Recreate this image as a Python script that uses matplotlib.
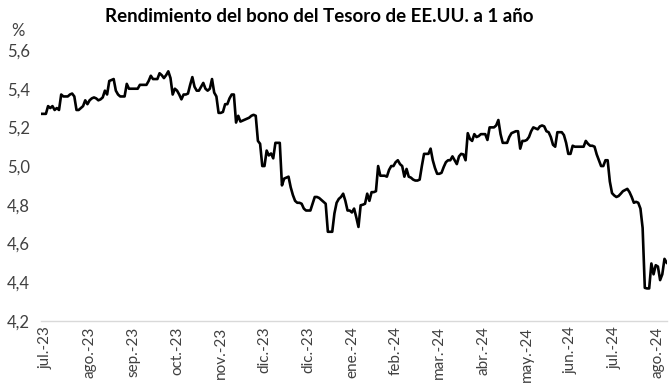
import matplotlib
matplotlib.use("Agg")
import matplotlib.pyplot as plt
from matplotlib.ticker import FuncFormatter

# rendimiento diario (%), una observación por día hábil
yields = [
    5.27, 5.27, 5.27, 5.31, 5.30, 5.31, 5.29, 5.30, 5.29, 5.37,
    5.36, 5.36, 5.36, 5.37, 5.375, 5.36, 5.29, 5.29, 5.30, 5.31,
    5.34, 5.32, 5.34, 5.35, 5.355, 5.35, 5.34, 5.345, 5.355, 5.39,
    5.37, 5.44, 5.445, 5.45, 5.39, 5.37, 5.36, 5.36, 5.36, 5.425,
    5.40, 5.40, 5.40, 5.40, 5.40, 5.42, 5.42, 5.42, 5.42, 5.44,
    5.467, 5.45, 5.45, 5.45, 5.48, 5.47, 5.455, 5.47, 5.49, 5.455,
    5.37, 5.40, 5.39, 5.37, 5.345, 5.37, 5.37, 5.375, 5.42, 5.46,
    5.41, 5.39, 5.39, 5.41, 5.43, 5.40, 5.39, 5.40, 5.45, 5.38,
    5.36, 5.275, 5.275, 5.28, 5.32, 5.32, 5.35, 5.37, 5.37, 5.225,
    5.26, 5.23, 5.235, 5.24, 5.245, 5.25, 5.26, 5.265, 5.26, 5.13,
    5.115, 5.00, 5.00, 5.08, 5.055, 5.065, 5.04, 5.12, 5.12, 5.12,
    4.90, 4.935, 4.94, 4.945, 4.89, 4.85, 4.82, 4.81, 4.81, 4.805,
    4.78, 4.77, 4.77, 4.77, 4.805, 4.84, 4.84, 4.835, 4.825, 4.815,
    4.805, 4.66, 4.66, 4.66, 4.755, 4.81, 4.83, 4.84, 4.857, 4.82,
    4.77, 4.77, 4.76, 4.78, 4.735, 4.685, 4.797, 4.80, 4.805, 4.857,
    4.82, 4.865, 4.865, 4.87, 5.00, 4.95, 4.95, 4.95, 4.945, 4.98,
    5.00, 5.00, 5.02, 5.03, 5.01, 5.00, 4.945, 4.985, 4.945, 4.94,
    4.93, 4.925, 4.925, 4.93, 5.00, 5.063, 5.063, 5.063, 5.09, 5.03,
    4.99, 4.96, 4.96, 4.965, 4.995, 5.02, 5.03, 5.03, 5.05, 5.03,
    5.01, 5.05, 5.063, 5.06, 5.03, 5.17, 5.14, 5.13, 5.165, 5.15,
    5.155, 5.165, 5.165, 5.165, 5.135, 5.20, 5.20, 5.20, 5.21, 5.238,
    5.165, 5.12, 5.12, 5.12, 5.15, 5.17, 5.175, 5.18, 5.18, 5.09,
    5.13, 5.13, 5.135, 5.15, 5.18, 5.20, 5.195, 5.19, 5.205, 5.21,
    5.205, 5.18, 5.175, 5.15, 5.11, 5.10, 5.175, 5.175, 5.175, 5.16,
    5.12, 5.063, 5.063, 5.105, 5.10, 5.10, 5.10, 5.10, 5.10, 5.13,
    5.115, 5.105, 5.105, 5.10, 5.06, 5.03, 5.00, 5.00, 5.03, 5.03,
    4.92, 4.86, 4.848, 4.84, 4.845, 4.857, 4.87, 4.876, 4.882, 4.865,
    4.84, 4.81, 4.815, 4.81, 4.78, 4.68, 4.37, 4.367, 4.367, 4.496,
    4.44, 4.487, 4.48, 4.41, 4.44, 4.52, 4.50,
]

tick_labels = ["jul.-23", "ago.-23", "sep.-23", "oct.-23", "nov.-23", "dic.-23",
               "dic.-23", "ene.-24", "feb.-24", "mar.-24", "abr.-24", "may.-24",
               "jun.-24", "jul.-24", "ago.-24"]
tick_step = 20
tick_start = 2

plt.rcParams['font.family'] = ['Lato', 'DejaVu Sans']

fig = plt.figure(figsize=(6.7, 3.85), dpi=100)
ax = fig.add_axes([0.061, 0.167, 0.935, 0.703])

ax.plot(range(len(yields)), yields, color='black', linewidth=1.9)

ax.set_xlim(-0.3, len(yields) - 0.7)
ax.set_ylim(4.2, 5.6)
ax.set_yticks([4.2, 4.4, 4.6, 4.8, 5.0, 5.2, 5.4, 5.6])
ax.yaxis.set_major_formatter(FuncFormatter(lambda v, p: f"{v:.1f}".replace('.', ',')))
ax.set_xticks([tick_start + tick_step * k for k in range(len(tick_labels))])
ax.set_xticklabels(tick_labels, rotation=90)

for s in ['top', 'right', 'left']:
    ax.spines[s].set_visible(False)
ax.spines['bottom'].set_color('#d9d9d9')
ax.spines['bottom'].set_linewidth(1.0)
ax.tick_params(axis='y', length=0, labelsize=12, colors='#404040', pad=8)
ax.tick_params(axis='x', length=0, labelsize=11, colors='#404040', pad=4)

fig.text(0.477, 0.978, "Rendimiento del bono del Tesoro de EE.UU. a 1 año",
         ha='center', va='top', fontsize=13.5, fontweight='bold', color='black')
fig.text(0.027, 0.92, "%", ha='center', va='center', fontsize=12, color='#404040')

fig.savefig("out.png", dpi=100)
